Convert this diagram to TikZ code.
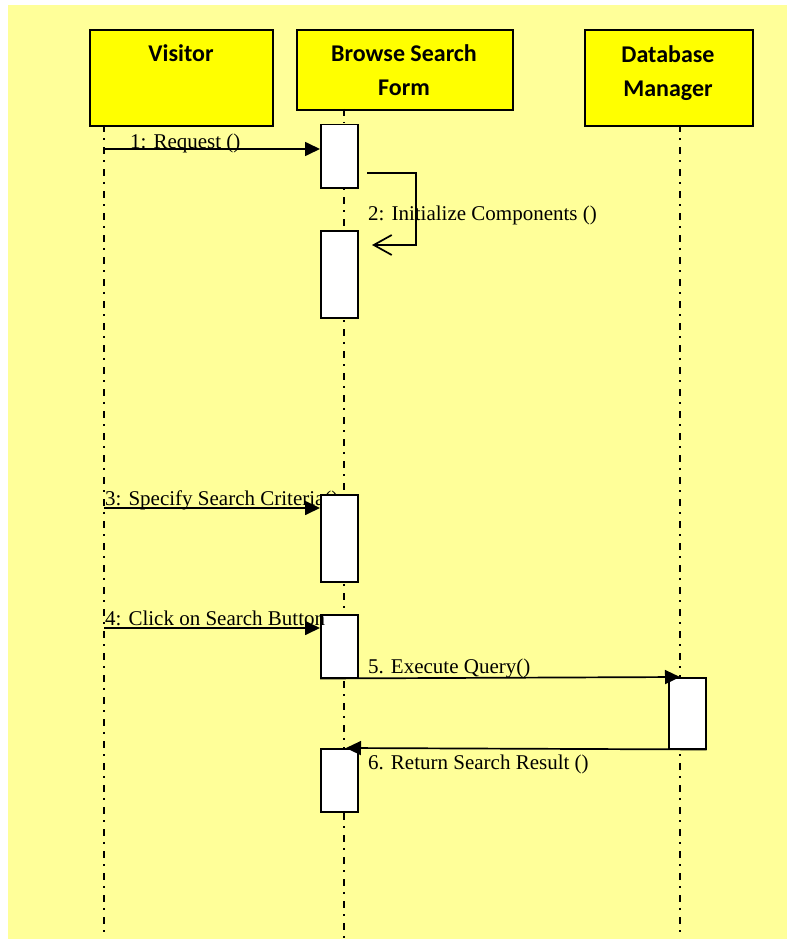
\documentclass[tikz,border=0pt]{standalone}
\usepackage{fontspec}
\setmainfont{Liberation Serif}
\newfontfamily\hdrfont{Carlito}
\usetikzlibrary{arrows.meta}
\definecolor{bgyellow}{HTML}{FFFF99}
\definecolor{boxyellow}{HTML}{FFFF00}
\begin{document}
\begin{tikzpicture}[x=1pt,y=-1pt,
  hdrbox/.style={draw=black,line width=1.7pt,fill=boxyellow,inner sep=0pt,anchor=north west},
  hdrtext/.style={font=\hdrfont\bfseries\fontsize{24}{28}\selectfont,inner sep=0pt,anchor=base},
  life/.style={line width=1.4pt,dash pattern=on 7pt off 6pt on 1.5pt off 7.5pt},
  act/.style={draw=black,line width=1.5pt,fill=white,inner sep=0pt,anchor=north west,minimum width=37pt},
  msg/.style={line width=1.7pt,-{Triangle[length=15pt,width=14pt]}},
  selfmsg/.style={line width=1.7pt,-{Straight Barb[length=18pt,width=20pt,line width=1.7pt]}},
  lbl/.style={font=\fontsize{21}{24}\selectfont,inner sep=0pt,anchor=base west}
]
\useasboundingbox (0,0) rectangle (787,939);
\fill[white] (0,0) rectangle (787,939);
\fill[bgyellow] (8,5) rectangle (787,939);

% header boxes
\node[hdrbox,minimum width=183pt,minimum height=96pt] (visitor) at (89,29) {};
\node[hdrbox,minimum width=216pt,minimum height=80pt] (browse) at (296,29) {};
\node[hdrbox,minimum width=168pt,minimum height=96pt] (dbm) at (584,29) {};
\node[hdrtext] (tvis) at (181,62) {Visitor};
\node[hdrtext] (tbr1) at (404,62) {Browse Search};
\node[hdrtext] (tbr2) at (404,96) {Form};
\node[hdrtext] (tdb1) at (668,63) {Database};
\node[hdrtext] (tdb2) at (668,97) {Manager};

% lifelines
\coordinate (vtop) at (104,125);
\coordinate (vbot) at (104,939);
\coordinate (btop) at (344,109);
\coordinate (bbot) at (344,939);
\coordinate (dtop) at (680,125);
\coordinate (dbot) at (680,939);
\draw[life] (vtop) -- (vbot);
\draw[life] (btop) -- (bbot);
\draw[life] (dtop) -- (dbot);

% label under box
\node[lbl] (l3) at (105,505) {3: Specify Search Criteria()};

% activation boxes
\node[act,minimum height=63pt] (a1) at (320,124) {};
\node[act,minimum height=87pt] (a2) at (320,230) {};
\node[act,minimum height=87pt] (a3) at (320,494) {};
\node[act,minimum height=63pt] (a4) at (320,614) {};
\node[act,minimum height=63pt] (a5) at (320,748) {};
\node[act,minimum height=71pt] (d1) at (668,677) {};

% messages
\coordinate (v1) at (104,149);
\draw[msg] (v1) -- (v1 -| a1.west);
\node[lbl] (l1) at (130,148) {1: Request ()};

\coordinate (s1) at (367,173);
\coordinate (s2) at (372,245);
\draw[selfmsg] (s1) -- (416,173) -- (416,245) -- (s2);
\node[lbl] (l2) at (368,220) {2: Initialize Components ()};

\coordinate (v3) at (104,508);
\draw[msg] (v3) -- (v3 -| a3.west);

\coordinate (v4) at (104,628);
\draw[msg] (v4) -- (v4 -| a4.west);
\node[lbl] (l4) at (105,625) {4: Click on Search Button};

\coordinate (d5) at (680,677);
\draw[msg] (a4.south west) -- (d5);
\node[lbl] (l5) at (368,673) {5. Execute Query()};

\coordinate (b6) at (346,748);
\draw[msg] (d1.south east) -- (b6);
\node[lbl] (l6) at (368,769) {6. Return Search Result ()};
\end{tikzpicture}
\end{document}
